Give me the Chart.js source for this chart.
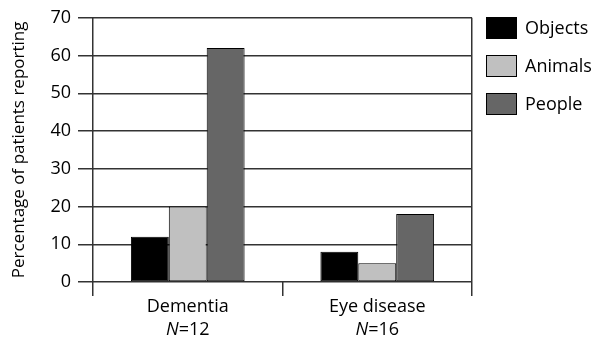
<!DOCTYPE html>
<html>
<head>
<meta charset="utf-8">
<script src="https://cdn.jsdelivr.net/npm/chart.js@4.4.0/dist/chart.umd.min.js"></script>
<style>
  html, body { margin: 0; padding: 0; background: #fff; }
  #wrap { position: relative; width: 592px; height: 337px; }
  #legend { position: absolute; left: 486px; top: 17px; font-family: "Open Sans", sans-serif; font-size: 18px; color: #000; }
  .item { position: absolute; left: 0; white-space: nowrap; }
  .box { position: absolute; left: 0; top: 0; width: 29px; height: 20px; border: 1px solid #000; }
  .lab { position: absolute; left: 39px; top: -2px; line-height: 24px; }
</style>
</head>
<body>
<div id="wrap">
  <canvas id="c" width="592" height="337"></canvas>
  <div id="legend"></div>
</div>
<script>
const categories = ['Dementia', 'Eye disease'];
const sampleSizes = [12, 16];
const seriesNames = ['Objects', 'Animals', 'People'];
const objectsValues = [12, 8];
const animalsValues = [20, 5];
const peopleValues = [62, 18];
const yTickMin = 0, yTickMax = 70, yTickStep = 10;

const seriesColors = ['#000000', '#c0c0c0', '#666666'];
const lineColor = '#333333';
const fontFamily = '"Open Sans", sans-serif';

const seriesValues = [objectsValues, animalsValues, peopleValues];

const xLabelPlugin = {
  id: 'xLabels',
  afterDraw(chart) {
    const ctx = chart.ctx;
    const xs = chart.scales.x;
    ctx.save();
    ctx.fillStyle = '#000';
    ctx.textBaseline = 'alphabetic';
    categories.forEach((cat, i) => {
      const x = xs.getPixelForValue(i);
      ctx.font = '18px ' + fontFamily;
      ctx.textAlign = 'center';
      ctx.fillText(cat, x, 312);
      const nPart = 'N';
      const rest = '=' + sampleSizes[i];
      ctx.font = 'italic 18px ' + fontFamily;
      const w1 = ctx.measureText(nPart).width;
      ctx.font = '18px ' + fontFamily;
      const w2 = ctx.measureText(rest).width;
      const start = x - (w1 + w2) / 2;
      ctx.textAlign = 'left';
      ctx.font = 'italic 18px ' + fontFamily;
      ctx.fillText(nPart, start, 335);
      ctx.font = '18px ' + fontFamily;
      ctx.fillText(rest, start + w1, 335);
    });
    ctx.restore();
  }
};

new Chart(document.getElementById('c'), {
  type: 'bar',
  data: {
    labels: categories,
    datasets: seriesNames.map((name, i) => ({
      label: name,
      data: seriesValues[i],
      backgroundColor: seriesColors[i],
      borderColor: '#000',
      borderWidth: 1,
      borderSkipped: false,
      categoryPercentage: 0.6,
      barPercentage: 1.0
    }))
  },
  options: {
    responsive: false,
    animation: false,
    layout: { padding: { top: 17, right: 120, left: 0, bottom: 0 } },
    plugins: { legend: { display: false }, tooltip: { enabled: false } },
    scales: {
      x: {
        offset: true,
        grid: {
          offset: true,
          color: (c) => c.index === 1 ? 'rgba(0,0,0,0)' : lineColor,
          tickColor: lineColor,
          lineWidth: 1.5,
          tickLength: 14,
          drawTicks: true
        },
        border: { display: false },
        ticks: { display: false },
        afterFit(s) { s.height = 55; }
      },
      y: {
        min: yTickMin,
        max: yTickMax,
        ticks: {
          stepSize: yTickStep,
          color: '#000',
          padding: 7,
          font: { family: fontFamily, size: 18 }
        },
        grid: { color: lineColor, lineWidth: 1.5, tickLength: 15 },
        border: { display: false },
        title: {
          display: true,
          text: 'Percentage of patients reporting',
          color: '#000',
          font: { family: fontFamily, size: 17 },
          padding: { top: 9, bottom: 0 }
        },
        afterFit(s) { s.width = 93; }
      }
    }
  },
  plugins: [xLabelPlugin]
});

const legend = document.getElementById('legend');
seriesNames.forEach((name, i) => {
  const item = document.createElement('div');
  item.className = 'item';
  item.style.top = (i * 38) + 'px';
  const box = document.createElement('div');
  box.className = 'box';
  box.style.background = seriesColors[i];
  const lab = document.createElement('div');
  lab.className = 'lab';
  lab.textContent = name;
  item.appendChild(box);
  item.appendChild(lab);
  legend.appendChild(item);
});
</script>
</body>
</html>
